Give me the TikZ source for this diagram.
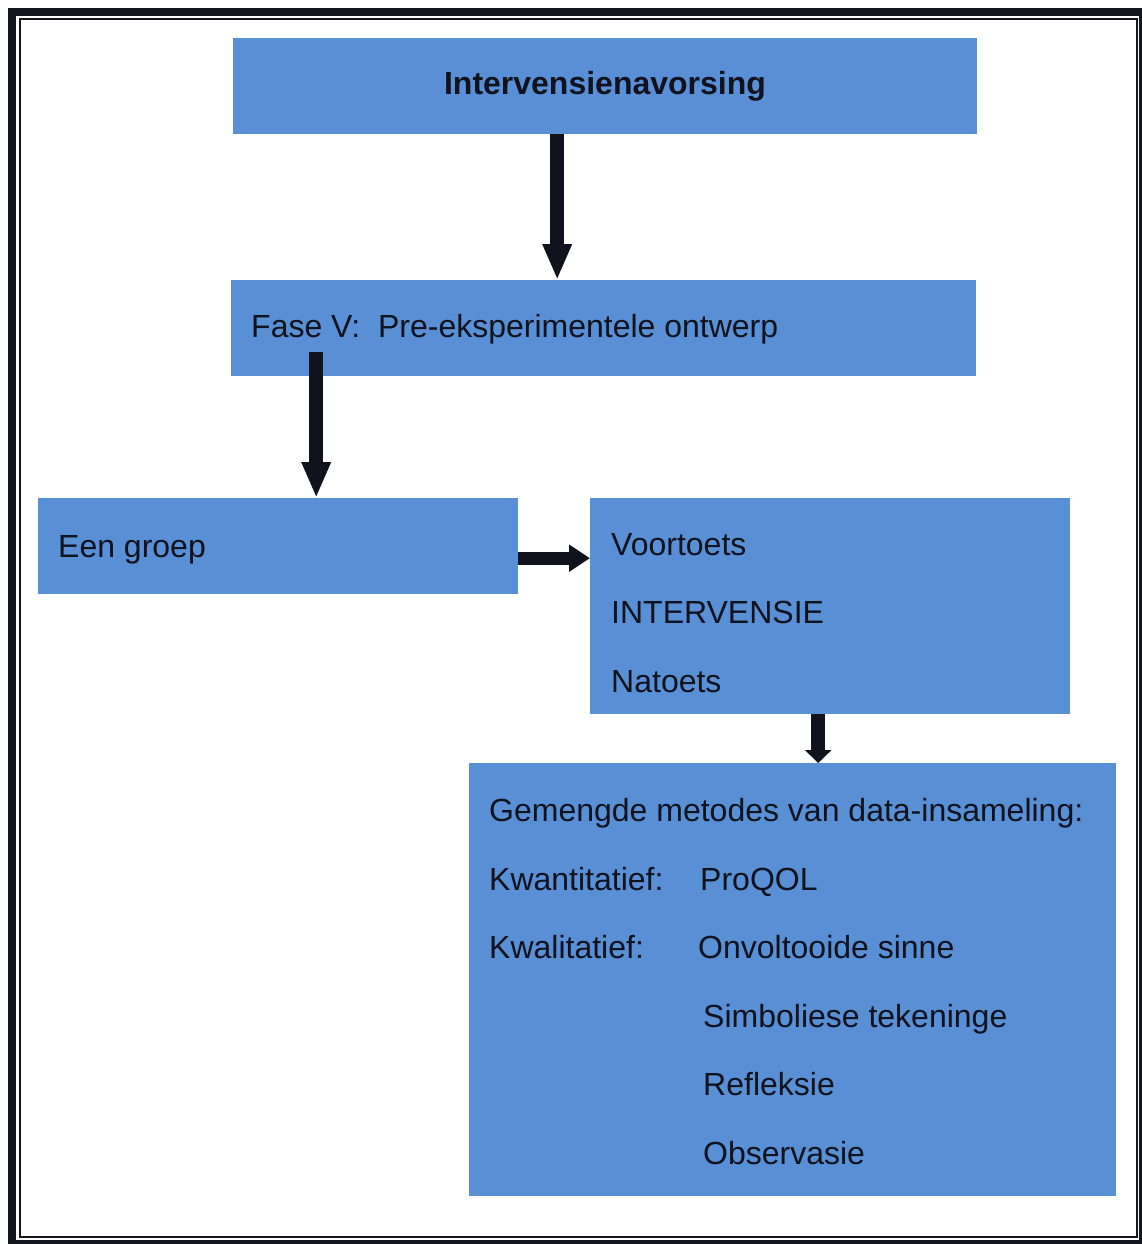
\documentclass[tikz,border=0pt]{standalone}
\usepackage{fontspec}
\setmainfont{Liberation Sans}
\usetikzlibrary{arrows.meta}
\definecolor{boxblue}{RGB}{89,143,212}
\definecolor{ink}{RGB}{16,18,30}
\definecolor{framecol}{RGB}{22,22,32}
\begin{document}
\begin{tikzpicture}[x=1pt,y=-1pt,
  box/.style={fill=boxblue,draw=none,inner sep=0pt,anchor=north west},
  lbl/.style={inner sep=0pt,anchor=base west,text=ink,font=\fontsize{32}{38}\selectfont},
  bigarr/.style={draw=ink,line width=14pt,-{Triangle[length=36pt,width=27pt]}},
  midarr/.style={draw=ink,line width=13pt,-{Triangle[length=21pt,width=26pt]}},
  smallarr/.style={draw=ink,line width=14pt,-{Triangle[length=13pt,width=26pt]}}]
\useasboundingbox (0,0) rectangle (1141,1244);
\fill[white] (0,0) rectangle (1141,1244);

% double frame round the page
\draw[framecol,line width=8pt] (12,12) rectangle (1143,1244);
\draw[framecol,line width=1.6pt] (20,19) rectangle (1137,1237);

% boxes
\node[box,minimum width=744pt,minimum height=96pt] (top) at (233,38) {};
\node[box,minimum width=745pt,minimum height=96pt] (fase) at (231,280) {};
\node[box,minimum width=480pt,minimum height=96pt] (groep) at (38,498) {};
\node[box,minimum width=480pt,minimum height=216pt] (toets) at (590,498) {};
\node[box,minimum width=647pt,minimum height=433pt] (data) at (469,763) {};

% texts
\node[inner sep=0pt,anchor=base,text=ink,font=\fontsize{32}{38}\selectfont\bfseries] (ttop) at (605,95) {Intervensienavorsing};
\node[lbl] (tfase) at (251,337) {Fase V:\ \ Pre-eksperimentele ontwerp};
\node[lbl] (tgroep) at (58,557) {Een groep};
\node[lbl] (tvoor) at (611,555) {Voortoets};
\node[lbl] (tint) at (611,623) {INTERVENSIE};
\node[lbl] (tna) at (611,692) {Natoets};
\node[lbl] (tgem) at (489,821) {Gemengde metodes van data-insameling:};
\node[lbl] (tkwan) at (489,890) {Kwantitatief:};
\node[lbl] (tpro) at (700,890) {ProQOL};
\node[lbl] (tkwal) at (489,958) {Kwalitatief:};
\node[lbl] (tonv) at (698,958) {Onvoltooide sinne};
\node[lbl] (tsim) at (703,1027) {Simboliese tekeninge};
\node[lbl] (tref) at (703,1095) {Refleksie};
\node[lbl] (tobs) at (703,1164) {Observasie};

% connectors
\draw[bigarr] ([xshift=-48pt]top.south) -- ([xshift=-46.5pt]fase.north);
\draw[bigarr] ([xshift=-287.5pt,yshift=24pt]fase.south) -- ([xshift=38pt]groep.north);
\draw[midarr] ([yshift=-12pt]groep.east) -- ([yshift=48pt]toets.west);
\draw[smallarr] ([xshift=-12pt]toets.south) -- ([xshift=25.5pt]data.north);
\end{tikzpicture}
\end{document}
